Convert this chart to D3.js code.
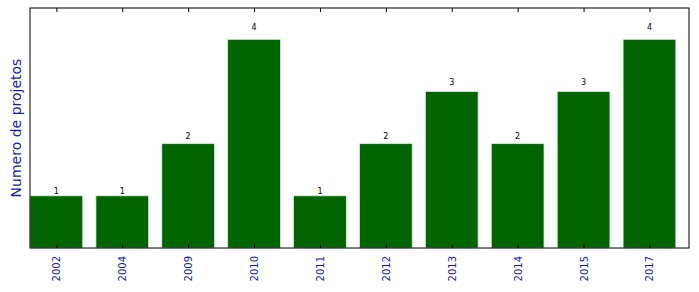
<!DOCTYPE html>
<html>
<head>
<meta charset="utf-8">
<script src="https://cdn.jsdelivr.net/npm/d3@7"></script>
<style>
  body { margin: 0; background: #fff; }
  text { font-family: "DejaVu Sans", sans-serif; }
</style>
</head>
<body>
<svg></svg>
<script>
// data
const years = ["2002", "2004", "2009", "2010", "2011", "2012", "2013", "2014", "2015", "2017"];
const projects = [1, 1, 2, 4, 1, 2, 3, 2, 3, 4];
const yLabel = "Numero de projetos";

const W = 699, H = 292;
const margin = { top: 8, right: 10, bottom: 44, left: 30 };
const width = W - margin.left - margin.right;
const height = H - margin.top - margin.bottom;

const svg = d3.select('svg')
    .attr('width', W)
    .attr('height', H);
const chart = svg.append('g')
    .attr('transform', `translate(${margin.left}, ${margin.top})`);

// x as a linear index scale, like matplotlib's xlim [-0.4, n - 0.4]
const xScale = d3.scaleLinear()
    .domain([-0.4, years.length - 0.4])
    .range([0, width]);
const barW = xScale(0.8) - xScale(0);

const yScale = d3.scaleLinear()
    .domain([0, d3.max(projects) * 1.15])
    .range([height, 0]);

const data = years.map((y, i) => ({ year: y, value: projects[i], i: i }));

// bars
chart.selectAll('rect.bar')
    .data(data)
    .enter()
    .append('rect')
    .attr('class', 'bar')
    .attr('x', d => xScale(d.i - 0.4))
    .attr('y', d => yScale(d.value))
    .attr('width', barW)
    .attr('height', d => height - yScale(d.value))
    .attr('fill', '#006400')
    .attr('stroke', '#d8ecd8')
    .attr('stroke-width', 0.8);

// value labels above bars
chart.selectAll('text.val')
    .data(data)
    .enter()
    .append('text')
    .attr('class', 'val')
    .attr('x', d => xScale(d.i))
    .attr('y', d => yScale(d.value * 1.05))
    .attr('dy', 1)
    .attr('text-anchor', 'middle')
    .attr('font-size', 8)
    .attr('fill', '#000')
    .text(d => d.value);

// bottom axis: inward ticks, rotated blue labels
const xAxis = chart.append('g')
    .attr('transform', `translate(0, ${height})`)
    .call(d3.axisBottom(xScale)
        .tickValues(d3.range(years.length))
        .tickFormat(i => years[i])
        .tickSize(-4)
        .tickPadding(8));
xAxis.select('.domain').remove();
xAxis.selectAll('line').attr('stroke', '#000');
xAxis.selectAll('text')
    .attr('font-size', 10)
    .attr('fill', '#1a1aa8')
    .attr('transform', 'rotate(-90)')
    .attr('text-anchor', 'end')
    .attr('x', -8)
    .attr('y', 0)
    .attr('dy', '0.35em');

// top ticks
const topAxis = chart.append('g')
    .call(d3.axisTop(xScale)
        .tickValues(d3.range(years.length))
        .tickFormat('')
        .tickSize(-4));
topAxis.select('.domain').remove();
topAxis.selectAll('line').attr('stroke', '#000');

// frame
chart.append('rect')
    .attr('width', width)
    .attr('height', height)
    .attr('fill', 'none')
    .attr('stroke', '#000')
    .attr('stroke-width', 1);

// y label
svg.append('text')
    .attr('transform', `translate(21, ${margin.top + height / 2}) rotate(-90)`)
    .attr('text-anchor', 'middle')
    .attr('font-size', 14)
    .attr('fill', '#1a1aa8')
    .text(yLabel);
</script>
</body>
</html>
